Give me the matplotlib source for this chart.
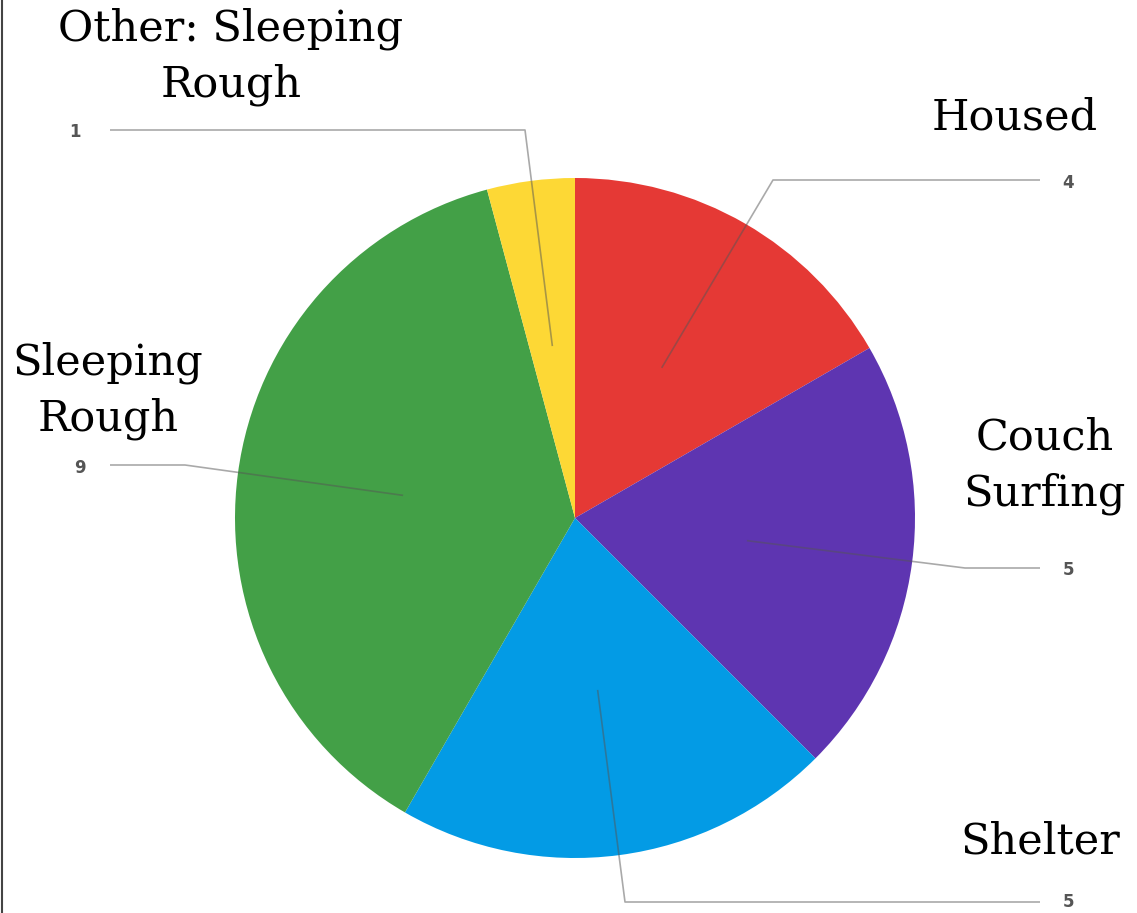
import matplotlib.pyplot as plt
import numpy as np

# housing situation counts
labels = ["Housed", "Couch\nSurfing", "Shelter", "Sleeping\nRough", "Other: Sleeping\nRough"]
counts = [4, 5, 5, 9, 1]
colors = ["#E53935", "#5E35B1", "#039BE5", "#43A047", "#FDD835"]

W, H = 1137, 913
fig = plt.figure(figsize=(W / 100, H / 100), dpi=100)
ax = fig.add_axes([0, 0, 1, 1])

cx, cy, R = 575, H - 518, 340
wedges, _ = ax.pie(counts, colors=colors, startangle=90, counterclock=False,
                   center=(cx, cy), radius=R,
                   wedgeprops=dict(linewidth=0))

ax.set_xlim(0, W)
ax.set_ylim(0, H)
ax.set_aspect("equal")
ax.axis("off")

# leader lines: elbow point, end of horizontal run, value text position
elbows = [(773, 180), (965, 568), (625, 902), (185, 465), (525, 130)]
ends = [1040, 1040, 1040, 110, 110]
num_pos = [(1068, 183), (1068, 570), (1068, 902), (80, 468), (75, 132)]

for w, n, (ex, ey), hx, (nx, ny) in zip(wedges, counts, elbows, ends, num_pos):
    mid = np.deg2rad((w.theta1 + w.theta2) / 2)
    px = cx + 0.51 * R * np.cos(mid)
    py = cy + 0.51 * R * np.sin(mid)
    ax.plot([px, ex, hx], [py, H - ey, H - ey], color="#555555", lw=1.2,
            alpha=0.5, solid_capstyle="butt", zorder=5)
    ax.text(nx, H - ny, str(n), ha="center", va="center", fontsize=12,
            color="#555555", fontweight="bold", family="DejaVu Sans", zorder=6)

# category names
label_pos = [(1015, 117), (1045, 466), (1040, 842), (108, 391), (231, 57)]
for lab, (lx, ly) in zip(labels, label_pos):
    ax.text(lx, H - ly, lab, ha="center", va="center", fontsize=31,
            family="DejaVu Serif", color="black", linespacing=1.42, zorder=7)

# thin frame on the left edge
ax.plot([2, 2], [0, H], color="#444444", lw=1.5, zorder=8)

fig.savefig("out.png", dpi=100)
